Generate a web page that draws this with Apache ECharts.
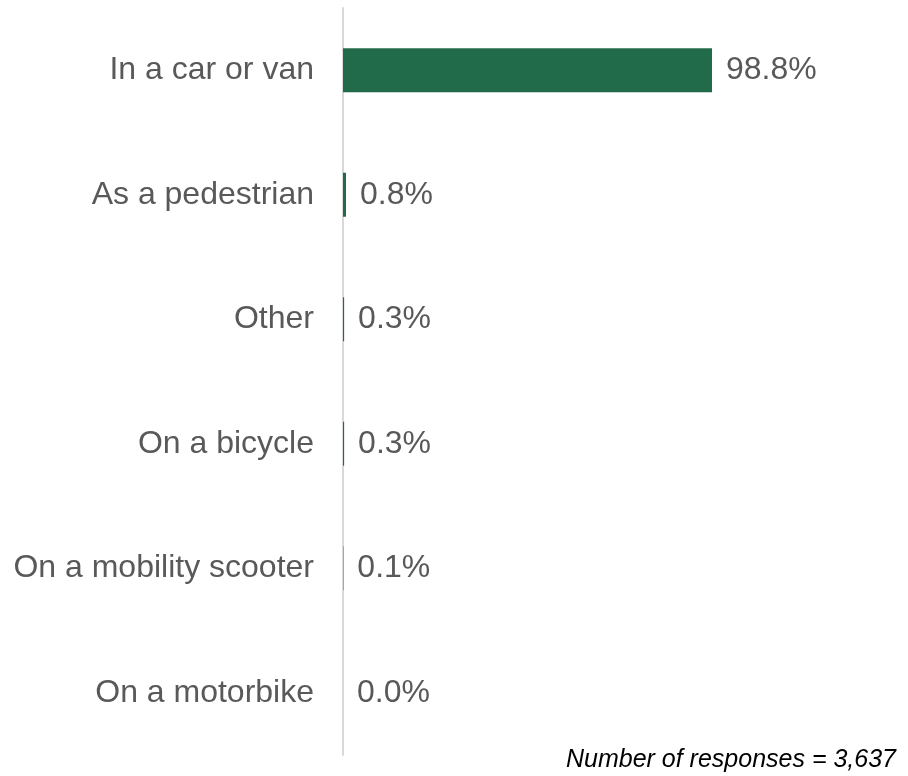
<!DOCTYPE html>
<html>
<head>
<meta charset="utf-8">
<script src="https://cdn.jsdelivr.net/npm/echarts@6/dist/echarts.min.js"></script>
<style>
  html, body { margin: 0; padding: 0; background: #fff; }
  #chart { width: 908px; height: 776px; }
</style>
</head>
<body>
<div id="chart"></div>
<script>
const categories = ['In a car or van', 'As a pedestrian', 'Other', 'On a bicycle', 'On a mobility scooter', 'On a motorbike']
const shares = [98.8, 0.8, 0.3, 0.3, 0.1, 0.0]
const footnote = 'Number of responses = 3,637'

const chart = echarts.init(document.getElementById('chart'))

chart.setOption({
  animation: false,
  textStyle: { fontFamily: 'Liberation Sans, Arial, sans-serif' },
  grid: { left: 343, right: 191.5, top: 8, bottom: 21, containLabel: false },
  xAxis: {
    type: 'value',
    min: 0,
    max: 100,
    show: false,
  },
  yAxis: {
    type: 'category',
    data: categories,
    inverse: true,
    axisLine: { show: true, lineStyle: { color: '#d9d9d9', width: 2 } },
    axisTick: { show: false },
    axisLabel: { color: '#595959', fontSize: 32, margin: 29 },
  },
  series: [
    {
      type: 'bar',
      data: shares,
      barWidth: 44,
      itemStyle: { color: '#226b4a' },
      label: {
        show: true,
        position: 'right',
        distance: 14,
        color: '#595959',
        fontSize: 32,
        formatter: (p) => p.value.toFixed(1) + '%',
      },
    },
  ],
  graphic: [
    {
      type: 'text',
      right: 12,
      bottom: 3,
      style: {
        text: footnote,
        fill: '#000',
        font: 'italic 25px Liberation Sans, Arial, sans-serif',
      },
    },
  ],
})
</script>
</body>
</html>
